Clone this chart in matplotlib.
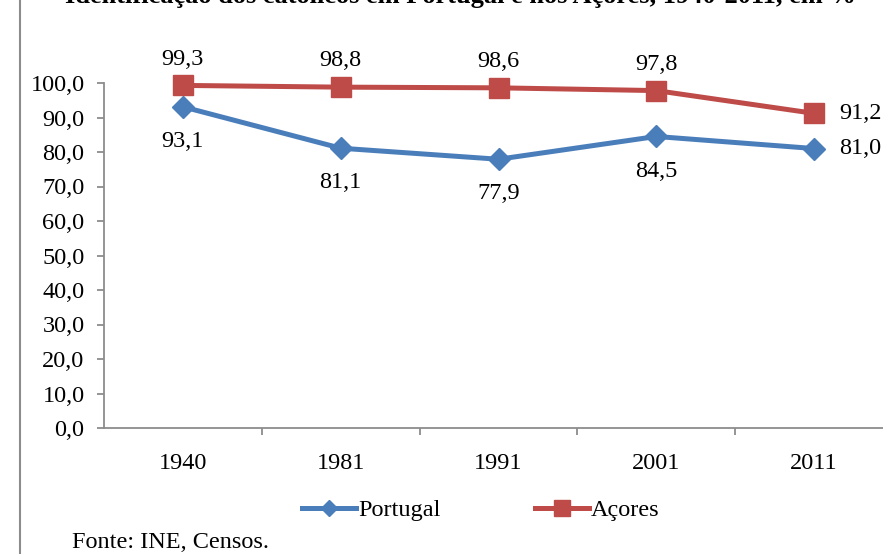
import numpy as np
import matplotlib.pyplot as plt
from matplotlib.lines import Line2D

anos = ['1940', '1981', '1991', '2001', '2011']
portugal = [93.1, 81.1, 77.9, 84.5, 81.0]
acores = [99.3, 98.8, 98.6, 97.8, 91.2]

plt.rcParams['font.family'] = ['Liberation Serif', 'DejaVu Serif']

azul = '#4A7EBB'
vermelho = '#BE4B48'
cinza = '#8C8C8C'
fs = 17.5

fig = plt.figure(figsize=(8.83, 5.54), dpi=100)
ax = fig.add_axes([104 / 883, 126 / 554, 789 / 883, 345 / 554])

x = np.arange(len(anos))
ax.plot(x, portugal, color=azul, lw=3.6, marker='D', ms=11, label='Portugal', clip_on=False)
ax.plot(x, acores, color=vermelho, lw=3.6, marker='s', ms=14.5, label='Açores', clip_on=False)

# rótulos dos valores
def fmt(v):
    return f'{v:.1f}'.replace('.', ',')

for i, v in enumerate(acores):
    if i == len(anos) - 1:
        ax.annotate(fmt(v), (x[i], v), xytext=(18, 0), textcoords='offset points',
                    ha='left', va='center', fontsize=fs)
    else:
        ax.annotate(fmt(v), (x[i], v), xytext=(0, 19), textcoords='offset points',
                    ha='center', va='center', fontsize=fs)
for i, v in enumerate(portugal):
    if i == len(anos) - 1:
        ax.annotate(fmt(v), (x[i], v), xytext=(18, 0), textcoords='offset points',
                    ha='left', va='center', fontsize=fs)
    else:
        ax.annotate(fmt(v), (x[i], v), xytext=(0, -25), textcoords='offset points',
                    ha='center', va='center', fontsize=fs)

ax.set_xlim(-0.5, len(anos) - 0.5)
ax.set_ylim(0, 100)
yt = np.arange(0, 101, 10)
ax.set_yticks(yt)
ax.set_yticklabels([fmt(t) for t in yt])
ax.set_xticks(x)
ax.set_xticklabels(anos)
ax.set_xticks(np.arange(0.5, len(anos) - 0.5, 1), minor=True)
ax.tick_params(axis='x', which='major', length=0, pad=18, labelsize=fs)
ax.tick_params(axis='x', which='minor', length=5, color=cinza, width=1.3)
ax.tick_params(axis='y', length=5, color=cinza, width=1.3, pad=9, labelsize=fs)
for s in ['top', 'right']:
    ax.spines[s].set_visible(False)
for s in ['left', 'bottom']:
    ax.spines[s].set_color(cinza)
    ax.spines[s].set_linewidth(1.3)

fig.legend(loc='center', bbox_to_anchor=(481 / 883, 1 - 510 / 554), ncol=2,
           frameon=False, fontsize=fs, handlelength=2.2, handletextpad=0.1,
           columnspacing=3.9, markerscale=0.75)

fig.text(72 / 883, 1 - 542 / 554, 'Fonte: INE, Censos.', fontsize=fs, ha='left', va='center')
fig.text(460 / 883, 1 - 3 / 554, 'Identificação dos católicos em Portugal e nos Açores, 1940-2011, em %',
         fontsize=19, fontweight='bold', ha='center', va='baseline')

fig.add_artist(Line2D([20 / 883, 20 / 883], [0, 1], color=cinza, lw=1.5))

fig.savefig('out.png', dpi=100)
